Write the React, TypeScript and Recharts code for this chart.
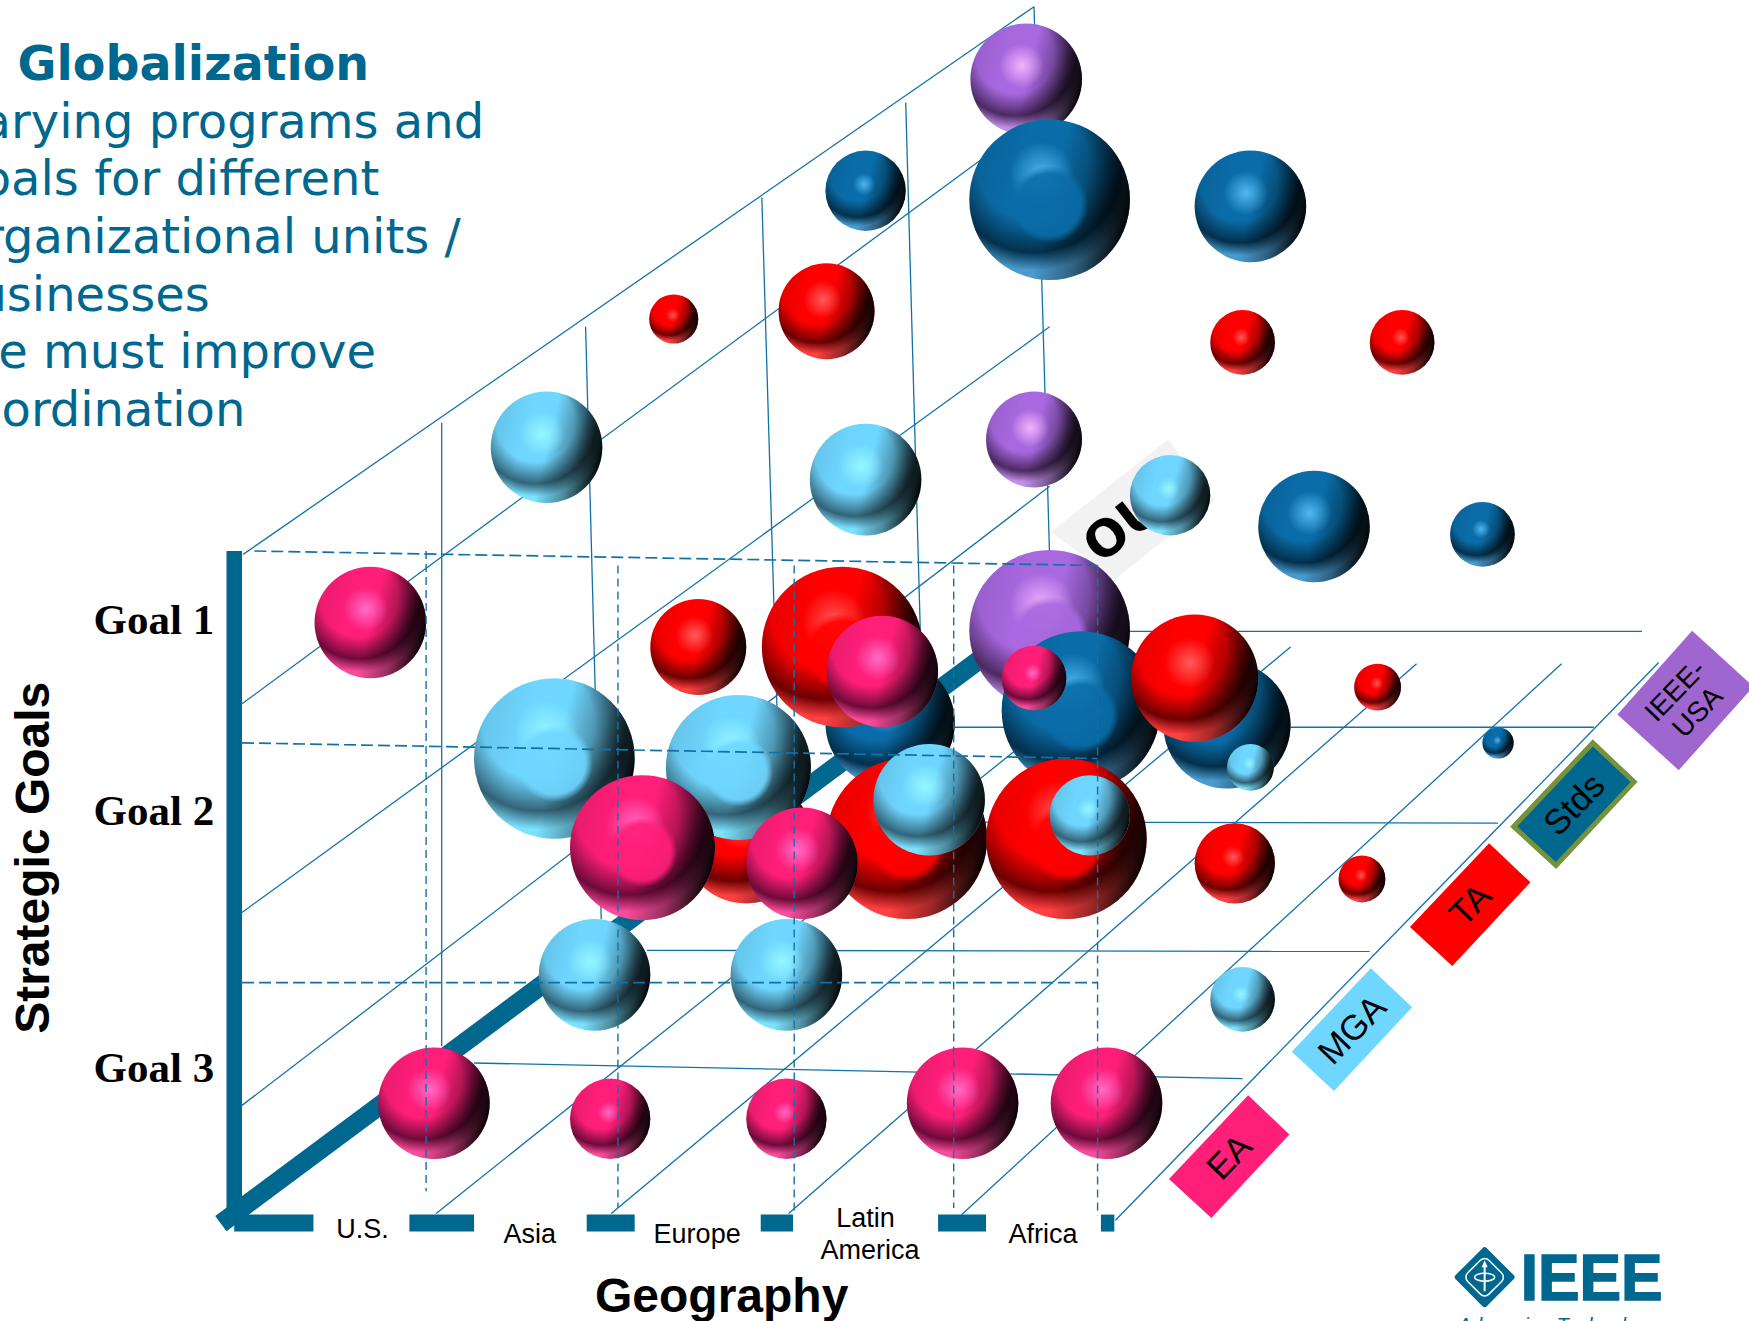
import { ScatterChart, Scatter, XAxis, YAxis } from 'recharts';

// everything is read in a 1568 x 1184 unit system, the chart stretches it to the page
const WIDTH = 1749;
const HEIGHT = 1321;
const UNIT = WIDTH / 1568;
const BLUE = '#00678F';
const GRID = '#1272A8';

type Ball = [number, number, number];
type Seg = [number, number, number, number];
type Txt = [string, number, number];

const purpleBalls: Ball[] = [[920, 71, 50], [927, 394, 43], [941, 565, 72]];
const navyBalls: Ball[] = [
  [776, 171, 36], [941, 179, 72], [1121, 185, 50], [1178, 472, 50], [1329, 479, 29],
  [798, 648, 58], [969, 637, 71], [1100, 650, 57], [1343, 666, 14],
];
const redBalls: Ball[] = [
  [604, 286, 22], [741, 279, 43], [1114, 307, 29], [1257, 307, 29], [626, 580, 43],
  [755, 580, 72], [1071, 608, 57], [1235, 616, 21], [669, 752, 58], [813, 752, 72],
  [956, 752, 72], [1107, 774, 36], [1221, 788, 21],
];
const lightBalls: Ball[] = [
  [490, 401, 50], [776, 430, 50], [1049, 444, 36], [497, 680, 72], [662, 688, 65],
  [833, 717, 50], [1121, 688, 21], [977, 731, 36], [533, 874, 50], [705, 874, 50], [1114, 896, 29],
];
const pinkBalls: Ball[] = [
  [332, 558, 50], [791, 602, 50], [927, 608, 29], [576, 760, 65], [719, 774, 50],
  [389, 989, 50], [547, 1003, 36], [705, 1003, 36], [863, 989, 50], [992, 989, 50],
];

const solidLines: Seg[] = [
  // back wall
  [218, 497, 927, 6], [217, 631, 915, 117], [217, 818, 941, 293], [217, 991, 941, 436],
  [396, 379, 396, 938], [525, 293, 539, 824], [683, 177, 697, 650], [812, 92, 826, 600], [927, 6, 941, 500],
  // floor
  [391, 1088, 1044, 566], [548, 1088, 1157, 580], [707, 1088, 1270, 595], [862, 1089, 1400, 595], [1000, 1094, 1487, 594],
  [425, 953, 1114, 967], [580, 852, 1228, 853], [860, 737, 1343, 738], [855, 652, 1429, 652], [941, 566, 1472, 566],
];
const dashedRows: Seg[] = [[228, 494, 984, 507], [217, 666, 984, 680], [217, 881, 984, 881]];
const dashedColumns: Seg[] = [
  [382, 494, 382, 1068], [554, 507, 554, 1083], [712, 507, 712, 1088], [855, 507, 855, 1083], [984, 507, 984, 1090],
];
const thickDiagonal: Seg = [198, 1097, 880, 590];
const thickWall: Seg = [210, 494, 210, 1097];
const bottomBars: Seg[] = [
  [210, 1096.5, 281, 1096.5], [367, 1096.5, 425, 1096.5], [526, 1096.5, 569, 1096.5],
  [682, 1096.5, 711, 1096.5], [841, 1096.5, 884, 1096.5], [987, 1096.5, 999, 1096.5],
];

const titleText: Txt = ['Globalization', 331, 72];
const bodyLines: Txt[] = [
  ['Varying programs and', 434, 124],
  ['goals for different', 340, 175],
  ['organizational units /', 413, 227],
  ['businesses', 188, 279],
  ['We must improve', 337, 330],
  ['coordination', 220, 382],
];
const goalLabels: Txt[] = [['Goal 1', 138, 568], ['Goal 2', 138, 740], ['Goal 3', 138, 970]];
const geoLabels: Txt[] = [
  ['U.S.', 325, 1110], ['Asia', 475, 1114], ['Europe', 625, 1114],
  ['Latin', 776, 1100], ['America', 780, 1129], ['Africa', 935, 1114],
];
const axisX: Txt = ['Geography', 647, 1176];
const axisY: Txt = ['Strategic Goals', 44, 769];
const orgTags: [string, number, number, string][] = [
  ['EA', 1102, 1037, '#FF1E78'],
  ['MGA', 1212, 923, '#6FD6FF'],
  ['TA', 1318, 811, '#FF0000'],
  ['Stds', 1411, 721, '#00678F'],
  ['IEEE-|USA', 1511, 628, '#A066D0'],
];
const hiddenTag: Txt = ['OU', 1015, 456];
const logoSpot: Txt = ['IEEE', 1331, 1145];

const ballStyles: Record<string, { base: string; dark: string; rim: string; glow: string }> = {
  purple: { base: '#A868E0', dark: '#4C2A62', rim: '#C090E8', glow: '#F4B8FF' },
  navy: { base: '#0A6CA8', dark: '#03304C', rim: '#4A9CD0', glow: '#55BDF5' },
  red: { base: '#FF0000', dark: '#6E0000', rim: '#FF4040', glow: '#FF6060' },
  light: { base: '#6FD6FF', dark: '#336478', rim: '#7CE2FF', glow: '#96FAFF' },
  pink: { base: '#FF1E78', dark: '#6E0A3A', rim: '#FA4C9C', glow: '#FF70CC' },
};
const sizeClass = (r: number) => (r >= 60 ? 'big' : r >= 40 ? 'mid' : 'small');

const toBalls = (list: Ball[]) => list.map(([x, y, r]) => ({ x, y, r }));
const toSeg = ([x1, y1, x2, y2]: Seg) => [{ x: x1, y: y1 }, { x: x2, y: y2 }];
const toText = (list: Txt[]) => list.map(([label, x, y]) => ({ label, x, y }));
const noDot = () => <g />;

const ballShape = (name: string) => (props: any) => {
  const { cx, cy, payload } = props;
  const r = payload.r * UNIT;
  const size = sizeClass(payload.r);
  return (
    <g>
      <circle cx={cx} cy={cy} r={r} fill={`url(#base-${name})`} />
      <circle cx={cx} cy={cy} r={r} fill="url(#shade)" />
      <circle cx={cx} cy={cy} r={r} fill={`url(#glow-${size}-${name})`} />
      {size === 'big' && <circle cx={cx} cy={cy} r={r} fill={`url(#disc-${name})`} />}
    </g>
  );
};

const textShape = (style: any) => (props: any) => (
  <text x={props.cx} y={props.cy} {...style}>{props.payload.label}</text>
);

const rotatedShape = (style: any, angle: number) => (props: any) => (
  <text x={props.cx} y={props.cy} transform={`rotate(${angle} ${props.cx} ${props.cy})`} {...style}>
    {props.payload.label}
  </text>
);

const tagShape = (props: any) => {
  const { cx, cy, payload } = props;
  const lines: string[] = payload.label.split('|');
  const single = lines.length === 1;
  const corners = single
    ? [[17, -55], [54, -20], [-16, 55], [-54, 20]]
    : [[6, -62.5], [61, -12.5], [-6, 62.5], [-61, 12.5]];
  const pts = corners.map(([dx, dy]) => `${cx + dx * UNIT},${cy + dy * UNIT}`).join(' ');
  return (
    <g>
      <polygon
        points={pts}
        fill={payload.color}
        stroke={payload.label === 'Stds' ? '#76923C' : 'none'}
        strokeWidth={5}
      />
      <g transform={`rotate(-46 ${cx} ${cy})`}>
        {lines.map((line, i) => (
          <text
            key={line}
            x={cx}
            y={cy + (single ? 12 : i * 31 - 5)}
            textAnchor="middle"
            fontFamily="Liberation Sans"
            fontSize={single ? 35 : 28}
            fill="#000"
          >
            {line}
          </text>
        ))}
      </g>
    </g>
  );
};

const hiddenShape = (props: any) => {
  const { cx, cy, payload } = props;
  const pts = [[32, -62], [74, -8], [-15, 63], [-73, 21]]
    .map(([dx, dy]) => `${cx + dx * UNIT},${cy + dy * UNIT}`)
    .join(' ');
  return (
    <g>
      <polygon points={pts} fill="#F2F2F2" />
      <text
        x={cx - 32}
        y={cy + 56}
        transform={`rotate(-38 ${cx - 32} ${cy + 56})`}
        fontFamily="DejaVu Sans"
        fontWeight="bold"
        fontSize={50}
        fill="#000"
      >
        {payload.label}
      </text>
    </g>
  );
};

const logoShape = (props: any) => {
  const { cx, cy } = props;
  return (
    <g>
      <g transform={`translate(${cx} ${cy})`}>
        <rect x={-22} y={-22} width={44} height={44} rx={3} fill={BLUE} transform="rotate(45)" />
        <rect x={-15} y={-15} width={30} height={30} rx={6} fill="none" stroke="#fff" strokeWidth={1.5} transform="rotate(45)" />
        <path d="M0,-17 L3,-10 L1,-10 L1,14 L-1,14 L-1,-10 L-3,-10 Z" fill="#fff" />
        <ellipse cx={0} cy={0} rx={10} ry={4} fill="none" stroke="#fff" strokeWidth={1.5} />
      </g>
      <text
        x={cx + 36}
        y={cy + 23}
        textLength={142}
        lengthAdjust="spacingAndGlyphs"
        fontFamily="Liberation Sans"
        fontWeight="bold"
        fontSize={65}
        fill={BLUE}
        stroke={BLUE}
        strokeWidth={1.5}
      >
        IEEE
      </text>
      <text x={cx - 27} y={cy + 55} fontFamily="Liberation Sans" fontStyle="italic" fontSize={20} fill={BLUE}>
        Advancing Technology
      </text>
    </g>
  );
};

const sans = { fontFamily: 'Liberation Sans', fill: '#000' };

export default function App() {
  return (
    <div style={{ position: 'absolute', left: 0, top: 0, width: WIDTH, height: HEIGHT, overflow: 'hidden', background: '#fff' }}>
      <ScatterChart width={WIDTH} height={HEIGHT} margin={{ top: 0, right: 0, bottom: 0, left: 0 }}>
        <defs>
          {Object.entries(ballStyles).map(([name, c]) => (
            <radialGradient key={`base-${name}`} id={`base-${name}`} cx="0.4" cy="0.28" r="0.76">
              <stop offset="0" stopColor={c.base} />
              <stop offset="0.46" stopColor={c.base} />
              <stop offset="0.72" stopColor={c.dark} />
              <stop offset="0.87" stopColor={c.rim} />
              <stop offset="1" stopColor={c.rim} />
            </radialGradient>
          ))}
          {Object.entries(ballStyles).map(([name, c]) => (
            <radialGradient key={`glow-big-${name}`} id={`glow-big-${name}`} cx="0.45" cy="0.34" r="0.2">
              <stop offset="0" stopColor={c.glow} stopOpacity={0.9} />
              <stop offset="1" stopColor={c.glow} stopOpacity={0} />
            </radialGradient>
          ))}
          {Object.entries(ballStyles).map(([name, c]) => (
            <radialGradient key={`glow-mid-${name}`} id={`glow-mid-${name}`} cx="0.46" cy="0.38" r="0.2">
              <stop offset="0" stopColor={c.glow} stopOpacity={0.95} />
              <stop offset="1" stopColor={c.glow} stopOpacity={0} />
            </radialGradient>
          ))}
          {Object.entries(ballStyles).map(([name, c]) => (
            <radialGradient key={`glow-small-${name}`} id={`glow-small-${name}`} cx="0.48" cy="0.42" r="0.14">
              <stop offset="0" stopColor={c.glow} stopOpacity={0.9} />
              <stop offset="1" stopColor={c.glow} stopOpacity={0} />
            </radialGradient>
          ))}
          {Object.entries(ballStyles).map(([name, c]) => (
            <radialGradient key={`disc-${name}`} id={`disc-${name}`} cx="0.5" cy="0.53" r="0.24">
              <stop offset="0" stopColor={c.base} stopOpacity={0.9} />
              <stop offset="0.8" stopColor={c.base} stopOpacity={0.9} />
              <stop offset="1" stopColor={c.base} stopOpacity={0} />
            </radialGradient>
          ))}
          <linearGradient id="shade" x1="0" y1="0.3" x2="1" y2="0.55">
            <stop offset="0" stopColor="#000" stopOpacity={0.1} />
            <stop offset="0.3" stopColor="#000" stopOpacity={0} />
            <stop offset="0.52" stopColor="#000" stopOpacity={0} />
            <stop offset="0.76" stopColor="#000" stopOpacity={0.38} />
            <stop offset="1" stopColor="#000" stopOpacity={0.97} />
          </linearGradient>
        </defs>

        <XAxis type="number" dataKey="x" domain={[0, 1568]} hide allowDataOverflow />
        <YAxis type="number" dataKey="y" domain={[0, 1184.3]} reversed hide allowDataOverflow />

        {solidLines.map((s, i) => (
          <Scatter
            key={`solid-${i}`}
            data={toSeg(s)}
            line={{ stroke: GRID, strokeWidth: 1.3 }}
            shape={noDot}
            isAnimationActive={false}
          />
        ))}
        <Scatter data={toSeg(thickDiagonal)} line={{ stroke: BLUE, strokeWidth: 19 }} shape={noDot} isAnimationActive={false} />
        <Scatter data={toSeg(thickWall)} line={{ stroke: BLUE, strokeWidth: 15.5 }} shape={noDot} isAnimationActive={false} />
        {bottomBars.map((s, i) => (
          <Scatter
            key={`bar-${i}`}
            data={toSeg(s)}
            line={{ stroke: BLUE, strokeWidth: 17 }}
            shape={noDot}
            isAnimationActive={false}
          />
        ))}

        <Scatter data={toText([hiddenTag])} shape={hiddenShape} isAnimationActive={false} />

        <Scatter data={toBalls(purpleBalls)} shape={ballShape('purple')} isAnimationActive={false} />
        <Scatter data={toBalls(navyBalls)} shape={ballShape('navy')} isAnimationActive={false} />
        <Scatter data={toBalls(redBalls)} shape={ballShape('red')} isAnimationActive={false} />
        <Scatter data={toBalls(lightBalls)} shape={ballShape('light')} isAnimationActive={false} />
        <Scatter data={toBalls(pinkBalls)} shape={ballShape('pink')} isAnimationActive={false} />

        {dashedRows.map((s, i) => (
          <Scatter
            key={`row-${i}`}
            data={toSeg(s)}
            line={{ stroke: GRID, strokeWidth: 1.7, strokeDasharray: '12 5' }}
            shape={noDot}
            isAnimationActive={false}
          />
        ))}
        {dashedColumns.map((s, i) => (
          <Scatter
            key={`col-${i}`}
            data={toSeg(s)}
            line={{ stroke: GRID, strokeWidth: 1.4, strokeDasharray: '8 5' }}
            shape={noDot}
            isAnimationActive={false}
          />
        ))}

        <Scatter
          data={orgTags.map(([label, x, y, color]) => ({ label, x, y, color }))}
          shape={tagShape}
          isAnimationActive={false}
        />

        <Scatter
          data={toText([titleText])}
          shape={textShape({ fontFamily: 'DejaVu Sans', fontWeight: 'bold', fontSize: 47.5, fill: BLUE, textAnchor: 'end' })}
          isAnimationActive={false}
        />
        <Scatter
          data={toText(bodyLines)}
          shape={textShape({ fontFamily: 'DejaVu Sans', fontSize: 48, fill: BLUE, textAnchor: 'end' })}
          isAnimationActive={false}
        />
        <Scatter
          data={toText(goalLabels)}
          shape={textShape({ fontFamily: 'Liberation Serif', fontWeight: 'bold', fontSize: 43, fill: '#000', textAnchor: 'middle' })}
          isAnimationActive={false}
        />
        <Scatter
          data={toText(geoLabels)}
          shape={textShape({ ...sans, fontSize: 27, textAnchor: 'middle' })}
          isAnimationActive={false}
        />
        <Scatter
          data={toText([axisX])}
          shape={textShape({ ...sans, fontWeight: 'bold', fontSize: 48, textAnchor: 'middle' })}
          isAnimationActive={false}
        />
        <Scatter
          data={toText([axisY])}
          shape={rotatedShape({ ...sans, fontWeight: 'bold', fontSize: 48, textAnchor: 'middle' }, -90)}
          isAnimationActive={false}
        />
        <Scatter data={toText([logoSpot])} shape={logoShape} isAnimationActive={false} />
      </ScatterChart>
    </div>
  );
}
